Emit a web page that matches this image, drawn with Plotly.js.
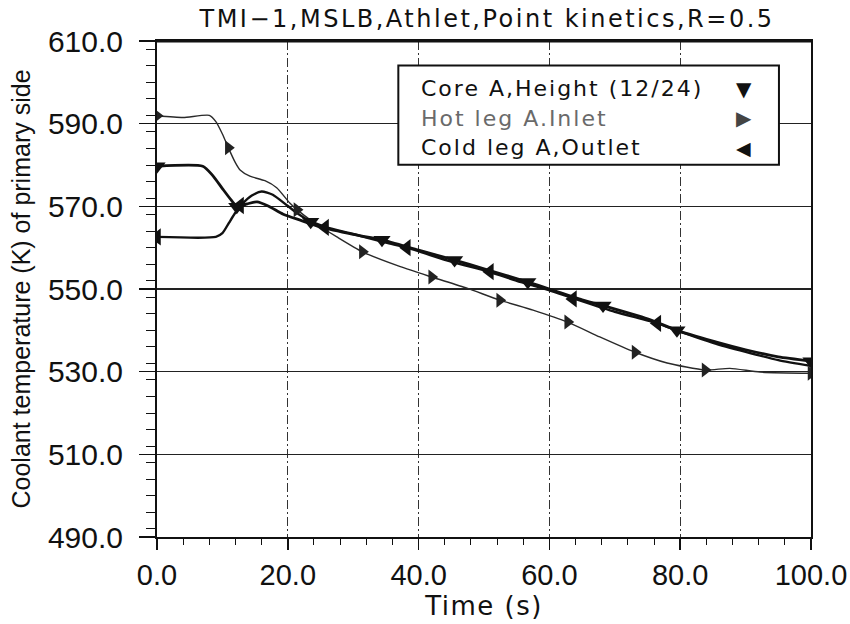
<!DOCTYPE html>
<html>
<head>
<meta charset="utf-8">
<script src="https://cdn.plot.ly/plotly-3.0.1.min.js"></script>
<style>
  html, body { margin: 0; padding: 0; background: #fff; }
  #chart { width: 850px; height: 624px; }
  .gtitle { letter-spacing: 2.5px; }
  .annotation-text { letter-spacing: 2px; }
  .xtitle { letter-spacing: 1.5px; }
</style>
</head>
<body>
<div id="chart"></div>
<script>
// Coolant temperatures on the primary side, TMI-1 main steam line break transient.

// Core A, height level 12/24
const coreTime = [0, 7, 8.5, 10, 11.3, 12.3, 13.8, 15.3, 17, 19.3, 22, 25, 30, 34.4, 40, 45.5, 50, 56.7, 60, 65, 68.2, 75, 79.5, 85, 90, 95, 100];
const coreTemp = [579.7, 579.7, 577.5, 574.3, 571.6, 569.9, 570.6, 571.1, 570.1, 568.1, 566.6, 565.0, 563.2, 561.9, 559.4, 557.0, 554.9, 551.7, 550.0, 547.4, 546.0, 542.8, 540.0, 537.4, 535.3, 533.6, 532.6];
const coreMarkTime = [0, 12.2, 23.5, 34.4, 45.5, 56.7, 68.2, 79.5, 100];
const coreMarkTemp = [579.7, 569.9, 566.3, 561.9, 557.0, 551.7, 546.0, 540.0, 532.5];

// Hot leg A, inlet
const hotTime = [0, 4, 8, 9, 10, 10.9, 12, 12.7, 14.2, 16.5, 18.3, 20.3, 21.4, 23.9, 27.5, 31.4, 37.2, 42, 47.4, 52.4, 57.5, 62.8, 67.7, 73.1, 78, 83.8, 87.6, 92.2, 100];
const hotTemp = [591.9, 591.5, 592.0, 590.5, 587.5, 584.2, 580.5, 578.8, 577.3, 576.2, 574.5, 570.8, 569.2, 566.2, 562.6, 559.0, 555.4, 552.9, 550.2, 547.3, 544.9, 542.0, 538.4, 534.7, 532.1, 530.4, 530.8, 529.9, 529.6];
const hotMarkTime = [0, 10.9, 21.4, 31.4, 42, 52.4, 62.8, 73.1, 83.8, 100];
const hotMarkTemp = [591.9, 584.2, 569.2, 559.0, 552.9, 547.3, 542.0, 534.7, 530.4, 529.6];

// Cold leg A, outlet
const coldTime = [0, 9, 10, 11, 12, 13, 14.5, 16, 17.7, 19.9, 21.4, 23, 25.7, 30, 35, 38.2, 45, 50.9, 55, 60, 63.6, 70, 76.5, 80, 85, 90, 95, 100];
const coldTemp = [562.6, 562.6, 563.5, 566.0, 568.5, 570.5, 572.6, 573.6, 572.8, 570.2, 568.4, 566.8, 565.0, 563.3, 561.2, 560.0, 556.6, 554.1, 552.0, 549.7, 547.8, 544.5, 541.7, 539.7, 537.0, 534.8, 532.8, 531.4];
const coldMarkTime = [0, 12.7, 25.7, 38.2, 50.9, 63.6, 76.5];
const coldMarkTemp = [562.6, 570.2, 564.9, 560.0, 554.2, 547.6, 541.7];

const seriesNames = ['Core A,Height (12/24)', 'Hot leg A.Inlet', 'Cold leg A,Outlet'];
const xTickVals = [0, 20, 40, 60, 80, 100];
const xTickText = ['0.0', '20.0', '40.0', '60.0', '80.0', '100.0'];
const yTickVals = [490, 510, 530, 550, 570, 590, 610];
const yTickText = ['490.0', '510.0', '530.0', '550.0', '570.0', '590.0', '610.0'];

function line(x, y, width, color) {
  return { x: x, y: y, mode: 'lines', type: 'scatter', showlegend: false,
           hoverinfo: 'skip', line: { color: color, width: width, shape: 'spline', smoothing: 0.6 } };
}
function marks(x, y, symbol, size, color) {
  return { x: x, y: y, mode: 'markers', type: 'scatter', showlegend: false,
           marker: { symbol: symbol, size: size, color: color, line: { width: 0 } } };
}

const traces = [
  line(hotTime, hotTemp, 1.4, '#2a2a2a'),
  line(coldTime, coldTemp, 2.4, '#111'),
  line(coreTime, coreTemp, 2.8, '#111'),
  marks(hotMarkTime, hotMarkTemp, 'triangle-right', 13, '#222'),
  marks(coldMarkTime, coldMarkTemp, 'triangle-left', 15, '#111'),
  marks(coreMarkTime, coreMarkTemp, 'triangle-down', 15, '#111')
];

// Legend drawn as a framed box with text rows and the marker glyph on the right
const legendFont = { family: 'DejaVu Sans, sans-serif', size: 22, color: '#111' };
const legendRows = [
  { text: seriesNames[0], textColor: '#111', glyph: '\u25BC', size: 20, y: 0.904, color: '#111' },
  { text: seriesNames[1], textColor: '#6a6a6a', glyph: '\u25B6', size: 20, y: 0.844, color: '#444' },
  { text: seriesNames[2], textColor: '#111', glyph: '\u25C0', size: 19, y: 0.785, color: '#111' }
];
const annotations = [];
legendRows.forEach(r => {
  annotations.push({ xref: 'paper', yref: 'paper', x: 0.4, y: r.y, xanchor: 'left', yanchor: 'middle',
    text: r.text, showarrow: false, font: Object.assign({}, legendFont, { color: r.textColor }) });
  annotations.push({ xref: 'paper', yref: 'paper', x: 0.899, y: r.y, xanchor: 'center', yanchor: 'middle',
    text: r.glyph, showarrow: false, font: { family: 'DejaVu Sans, sans-serif', size: r.size, color: r.color } });
});

const layout = {
  width: 850, height: 624,
  margin: { l: 157, r: 39, t: 41, b: 87 },
  paper_bgcolor: '#fff', plot_bgcolor: '#fff',
  title: { text: 'TMI\u22121,MSLB,Athlet,Point kinetics,R=0.5', x: 0.573, xanchor: 'center', y: 0.97, yanchor: 'middle',
           font: { family: 'DejaVu Sans, sans-serif', size: 24, color: '#111' } },
  xaxis: {
    range: [0, 100], tickvals: xTickVals, ticktext: xTickText,
    ticks: 'outside', ticklen: 11, tickwidth: 1.5, tickcolor: '#111',
    minor: { dtick: 4, ticks: 'outside', ticklen: 6, tickwidth: 1, tickcolor: '#111', showgrid: false },
    showline: true, linecolor: '#111', linewidth: 2, mirror: true,
    showgrid: true, gridcolor: '#333', gridwidth: 1, griddash: '9px,3px,2px,3px',
    zeroline: false,
    tickfont: { family: 'Liberation Sans, Arial, sans-serif', size: 29, color: '#111' },
    title: { text: 'Time (s)', standoff: 4, font: { family: 'DejaVu Sans, sans-serif', size: 26, color: '#111' } }
  },
  yaxis: {
    range: [490, 610], tickvals: yTickVals, ticktext: yTickText,
    ticks: 'outside', ticklen: 16, tickwidth: 1.5, tickcolor: '#111',
    ticklabelstandoff: 10,
    minor: { dtick: 4, ticks: 'outside', ticklen: 9, tickwidth: 1, tickcolor: '#111', showgrid: false },
    showline: true, linecolor: '#111', linewidth: 2, mirror: true,
    showgrid: true, gridcolor: '#222', gridwidth: 1.2,
    zeroline: false,
    tickfont: { family: 'Liberation Sans, Arial, sans-serif', size: 30, color: '#111' },
    title: { text: 'Coolant temperature (K) of primary side', standoff: 10,
             font: { family: 'Liberation Sans, Arial, sans-serif', size: 25, color: '#111' } }
  },
  shapes: [
    { type: 'rect', xref: 'paper', yref: 'paper', x0: 0.369, x1: 0.951, y0: 0.7505, y1: 0.9505,
      line: { color: '#111', width: 2 }, fillcolor: '#fff', layer: 'above' },
    // heavier top edge of the frame
    { type: 'line', xref: 'paper', yref: 'paper', x0: 0, x1: 1, y0: 1, y1: 1,
      line: { color: '#111', width: 3 } }
  ],
  annotations: annotations,
  showlegend: false
};

Plotly.newPlot('chart', traces, layout, { staticPlot: true, displayModeBar: false });
</script>
</body>
</html>
